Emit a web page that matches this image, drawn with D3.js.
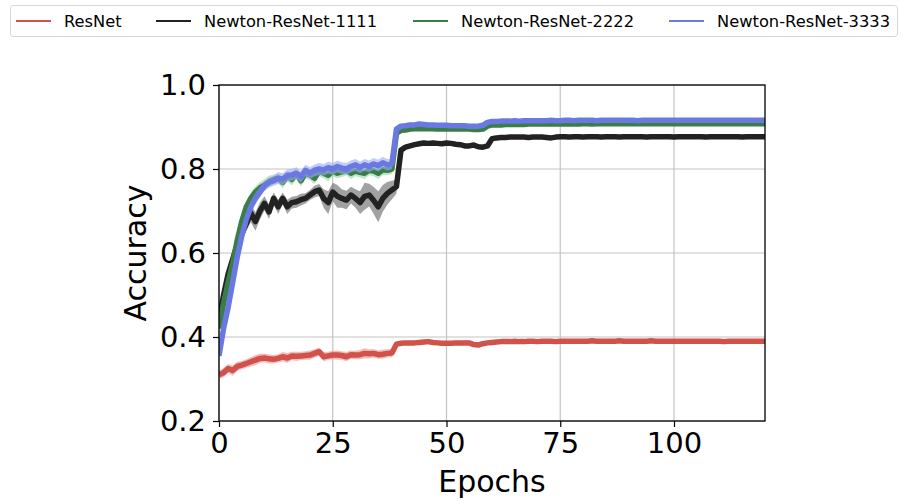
<!DOCTYPE html>
<html>
<head>
<meta charset="utf-8">
<script src="https://cdn.jsdelivr.net/npm/d3@7"></script>
<style>
  html, body { margin: 0; padding: 0; background: #fff; }
  svg { display: block; font-family: "DejaVu Sans", sans-serif; }
</style>
</head>
<body>
<svg id="chart" width="907" height="504"></svg>
<script>
// ---------------- DATA ----------------
const seriesNames = ["ResNet", "Newton-ResNet-1111", "Newton-ResNet-2222", "Newton-ResNet-3333"];
const xTicks = [0, 25, 50, 75, 100];
const yTicks = [0.2, 0.4, 0.6, 0.8, 1.0];
const xLabel = "Epochs";
const yLabel = "Accuracy";

const resnet = [
  0.310,0.315,0.325,0.320,0.330,0.333,0.337,0.341,0.345,0.349,
  0.350,0.348,0.347,0.349,0.353,0.350,0.355,0.354,0.355,0.356,
  0.357,0.361,0.365,0.353,0.355,0.357,0.357,0.356,0.353,0.358,
  0.357,0.358,0.361,0.360,0.361,0.358,0.359,0.361,0.362,0.383,
  0.385,0.386,0.386,0.386,0.387,0.388,0.389,0.387,0.386,0.385,
  0.385,0.385,0.386,0.386,0.386,0.386,0.382,0.381,0.384,0.386,
  0.387,0.388,0.389,0.389,0.389,0.390,0.389,0.389,0.390,0.390,
  0.389,0.390,0.390,0.390,0.389,0.390,0.390,0.390,0.390,0.390,
  0.390,0.390,0.391,0.390,0.390,0.390,0.390,0.390,0.391,0.390,
  0.390,0.390,0.390,0.390,0.390,0.391,0.390,0.390,0.390,0.390,
  0.390,0.390,0.390,0.390,0.390,0.390,0.390,0.390,0.390,0.390,
  0.390,0.389,0.390,0.390,0.390,0.390,0.390,0.390,0.390,0.390,
  0.390
];
const resnetStd = [
  0.010,0.011,0.011,0.012,0.011,0.010,0.010,0.011,0.012,0.011,
  0.010,0.011,0.010,0.010,0.011,0.012,0.010,0.011,0.010,0.010,
  0.011,0.010,0.010,0.011,0.010,0.010,0.011,0.010,0.011,0.010,
  0.010,0.011,0.012,0.011,0.010,0.010,0.011,0.010,0.010,0.006,
  0.005,0.005,0.005,0.005,0.005,0.005,0.005,0.005,0.005,0.005,
  0.005,0.005,0.005,0.005,0.005,0.005,0.005,0.005,0.005,0.004,
  0.004,0.004,0.004,0.004,0.004,0.004,0.004,0.004,0.004,0.004,
  0.004,0.004,0.004,0.004,0.004,0.004,0.004,0.004,0.004,0.004,
  0.004,0.004,0.004,0.004,0.004,0.004,0.004,0.004,0.004,0.004,
  0.004,0.004,0.004,0.004,0.004,0.004,0.004,0.004,0.004,0.004,
  0.004,0.004,0.004,0.004,0.004,0.004,0.004,0.004,0.004,0.004,
  0.004,0.004,0.004,0.004,0.004,0.004,0.004,0.004,0.004,0.004,
  0.004
];

const newton1111 = [
  0.440,0.500,0.550,0.585,0.620,0.645,0.670,0.695,0.675,0.700,
  0.718,0.698,0.730,0.710,0.730,0.710,0.720,0.722,0.727,0.730,
  0.738,0.746,0.750,0.730,0.720,0.745,0.735,0.730,0.726,0.738,
  0.730,0.720,0.735,0.738,0.725,0.710,0.730,0.742,0.750,0.758,
  0.845,0.852,0.855,0.858,0.860,0.862,0.861,0.862,0.861,0.860,
  0.862,0.861,0.859,0.858,0.855,0.855,0.857,0.853,0.852,0.855,
  0.872,0.874,0.875,0.875,0.876,0.876,0.876,0.876,0.875,0.876,
  0.876,0.876,0.875,0.874,0.876,0.877,0.877,0.876,0.877,0.877,
  0.876,0.877,0.877,0.877,0.876,0.877,0.877,0.877,0.876,0.877,
  0.877,0.877,0.877,0.877,0.876,0.877,0.877,0.877,0.877,0.877,
  0.876,0.877,0.877,0.877,0.877,0.877,0.877,0.876,0.877,0.877,
  0.877,0.877,0.877,0.877,0.877,0.876,0.877,0.877,0.877,0.877,
  0.877
];
const newton1111Std = [
  0.012,0.014,0.014,0.014,0.014,0.017,0.017,0.022,0.022,0.020,
  0.017,0.017,0.014,0.017,0.014,0.017,0.014,0.014,0.014,0.012,
  0.012,0.014,0.014,0.022,0.027,0.022,0.027,0.022,0.022,0.020,
  0.022,0.027,0.032,0.027,0.032,0.037,0.032,0.027,0.022,0.017,
  0.006,0.005,0.005,0.005,0.005,0.005,0.005,0.005,0.005,0.005,
  0.005,0.005,0.005,0.005,0.005,0.005,0.005,0.005,0.005,0.005,
  0.004,0.004,0.004,0.004,0.004,0.004,0.004,0.004,0.004,0.004,
  0.004,0.004,0.004,0.004,0.004,0.004,0.004,0.004,0.004,0.004,
  0.004,0.004,0.004,0.004,0.004,0.004,0.004,0.004,0.004,0.004,
  0.004,0.004,0.004,0.004,0.004,0.004,0.004,0.004,0.004,0.004,
  0.004,0.004,0.004,0.004,0.004,0.004,0.004,0.004,0.004,0.004,
  0.004,0.004,0.004,0.004,0.004,0.004,0.004,0.004,0.004,0.004,
  0.004
];

const newton2222 = [
  0.420,0.480,0.530,0.575,0.630,0.675,0.710,0.730,0.745,0.755,
  0.762,0.770,0.775,0.778,0.768,0.782,0.775,0.788,0.772,0.790,
  0.785,0.778,0.795,0.790,0.785,0.795,0.790,0.793,0.797,0.790,
  0.795,0.792,0.790,0.797,0.795,0.790,0.798,0.797,0.800,0.885,
  0.892,0.893,0.895,0.896,0.896,0.896,0.896,0.896,0.895,0.895,
  0.895,0.895,0.895,0.895,0.895,0.895,0.894,0.894,0.895,0.902,
  0.905,0.905,0.905,0.906,0.906,0.906,0.906,0.906,0.907,0.907,
  0.907,0.907,0.907,0.907,0.907,0.907,0.907,0.908,0.907,0.907,
  0.908,0.908,0.907,0.908,0.908,0.908,0.908,0.908,0.908,0.908,
  0.908,0.908,0.908,0.908,0.908,0.908,0.908,0.908,0.908,0.908,
  0.908,0.908,0.908,0.908,0.908,0.908,0.908,0.908,0.908,0.908,
  0.908,0.908,0.908,0.908,0.908,0.908,0.908,0.908,0.908,0.908,
  0.908
];
const newton2222Std = [
  0.010,0.010,0.010,0.010,0.012,0.012,0.014,0.014,0.014,0.014,
  0.014,0.014,0.012,0.012,0.014,0.012,0.014,0.012,0.014,0.012,
  0.012,0.014,0.012,0.012,0.014,0.012,0.012,0.012,0.012,0.014,
  0.012,0.012,0.014,0.012,0.012,0.014,0.012,0.012,0.012,0.007,
  0.005,0.005,0.004,0.004,0.004,0.004,0.004,0.004,0.004,0.004,
  0.004,0.004,0.004,0.004,0.004,0.004,0.004,0.004,0.004,0.004,
  0.004,0.004,0.004,0.004,0.004,0.004,0.004,0.004,0.004,0.004,
  0.004,0.004,0.004,0.004,0.004,0.004,0.004,0.004,0.004,0.004,
  0.004,0.004,0.004,0.004,0.004,0.004,0.004,0.004,0.004,0.004,
  0.004,0.004,0.004,0.004,0.004,0.004,0.004,0.004,0.004,0.004,
  0.004,0.004,0.004,0.004,0.004,0.004,0.004,0.004,0.004,0.004,
  0.004,0.004,0.004,0.004,0.004,0.004,0.004,0.004,0.004,0.004,
  0.004
];

const newton3333 = [
  0.355,0.420,0.470,0.530,0.590,0.640,0.680,0.710,0.730,0.745,
  0.760,0.768,0.772,0.778,0.776,0.785,0.786,0.790,0.782,0.797,
  0.790,0.797,0.800,0.798,0.803,0.800,0.806,0.802,0.800,0.806,
  0.810,0.804,0.810,0.806,0.812,0.808,0.815,0.810,0.812,0.895,
  0.902,0.903,0.905,0.905,0.907,0.906,0.905,0.905,0.904,0.904,
  0.904,0.903,0.903,0.903,0.903,0.902,0.902,0.902,0.904,0.911,
  0.913,0.913,0.914,0.914,0.914,0.915,0.914,0.915,0.915,0.915,
  0.915,0.915,0.915,0.916,0.915,0.915,0.916,0.916,0.915,0.916,
  0.916,0.916,0.916,0.915,0.916,0.916,0.916,0.916,0.916,0.916,
  0.916,0.916,0.915,0.916,0.916,0.916,0.916,0.916,0.916,0.916,
  0.916,0.916,0.916,0.916,0.916,0.916,0.916,0.916,0.916,0.916,
  0.916,0.916,0.916,0.916,0.916,0.916,0.916,0.916,0.916,0.916,
  0.916
];
const newton3333Std = [
  0.012,0.012,0.012,0.012,0.012,0.012,0.012,0.012,0.012,0.012,
  0.012,0.012,0.012,0.014,0.014,0.014,0.014,0.014,0.014,0.014,
  0.014,0.014,0.014,0.014,0.014,0.014,0.014,0.014,0.014,0.014,
  0.014,0.014,0.014,0.014,0.014,0.014,0.014,0.014,0.012,0.007,
  0.005,0.005,0.004,0.004,0.004,0.004,0.004,0.004,0.004,0.004,
  0.004,0.004,0.004,0.004,0.004,0.004,0.004,0.004,0.004,0.004,
  0.004,0.004,0.004,0.004,0.004,0.004,0.004,0.004,0.004,0.004,
  0.004,0.004,0.004,0.004,0.004,0.004,0.004,0.004,0.004,0.004,
  0.004,0.004,0.004,0.004,0.004,0.004,0.004,0.004,0.004,0.004,
  0.004,0.004,0.004,0.004,0.004,0.004,0.004,0.004,0.004,0.004,
  0.004,0.004,0.004,0.004,0.004,0.004,0.004,0.004,0.004,0.004,
  0.004,0.004,0.004,0.004,0.004,0.004,0.004,0.004,0.004,0.004,
  0.004
];

// ---------------- STYLE ----------------
const lineColors = ["#d0524a", "#222222", "#3a7d46", "#6a79e2"];
const bandColors = ["#f09a95", "#6e6e6e", "#8fd6a0", "#9daaf6"];
const bandOpacity = [0.65, 0.65, 0.6, 0.6];

const series = [
  { name: seriesNames[0], mean: resnet, std: resnetStd },
  { name: seriesNames[1], mean: newton1111, std: newton1111Std },
  { name: seriesNames[2], mean: newton2222, std: newton2222Std },
  { name: seriesNames[3], mean: newton3333, std: newton3333Std }
];

// ---------------- CHART ----------------
const svg = d3.select("#chart");
const plot = { left: 219, right: 765, top: 85, bottom: 421 };

const x = d3.scaleLinear().domain([0, 120]).range([plot.left, plot.right]);
const y = d3.scaleLinear().domain([0.2, 1.0]).range([plot.bottom, plot.top]);

// grid
const grid = svg.append("g");
grid.selectAll("line.gx").data(xTicks).enter().append("line")
  .attr("x1", d => x(d)).attr("x2", d => x(d))
  .attr("y1", plot.top).attr("y2", plot.bottom)
  .attr("stroke", "#c4c4c4").attr("stroke-width", 1.2);
grid.selectAll("line.gy").data(yTicks).enter().append("line")
  .attr("y1", d => y(d)).attr("y2", d => y(d))
  .attr("x1", plot.left).attr("x2", plot.right)
  .attr("stroke", "#c4c4c4").attr("stroke-width", 1.2);

// clip
svg.append("clipPath").attr("id", "clip").append("rect")
  .attr("x", plot.left).attr("y", plot.top)
  .attr("width", plot.right - plot.left).attr("height", plot.bottom - plot.top);

const marks = svg.append("g").attr("clip-path", "url(#clip)");

series.forEach((s, i) => {
  const pts = s.mean.map((m, e) => ({ e, m, sd: s.std[e] }));
  const area = d3.area()
    .x(d => x(d.e))
    .y0(d => y(d.m - d.sd))
    .y1(d => y(d.m + d.sd));
  const line = d3.line().x(d => x(d.e)).y(d => y(d.m));
  marks.append("path").datum(pts)
    .attr("d", area)
    .attr("fill", bandColors[i])
    .attr("fill-opacity", bandOpacity[i]);
  marks.append("path").datum(pts)
    .attr("d", line)
    .attr("fill", "none")
    .attr("stroke", lineColors[i])
    .attr("stroke-width", 5.5)
    .attr("stroke-linejoin", "round")
    .attr("stroke-linecap", "butt");
});

// axes
const xAxis = svg.append("g")
  .attr("transform", `translate(0,${plot.bottom})`)
  .call(d3.axisBottom(x).tickValues(xTicks).tickSize(6).tickPadding(5).tickFormat(d3.format("d")));
const yAxis = svg.append("g")
  .attr("transform", `translate(${plot.left},0)`)
  .call(d3.axisLeft(y).tickValues(yTicks).tickSize(6).tickPadding(7).tickFormat(d3.format(".1f")));

[xAxis, yAxis].forEach(a => {
  a.select(".domain").remove();
  a.selectAll(".tick line").attr("stroke", "#000").attr("stroke-width", 1.2);
  a.selectAll(".tick text")
    .attr("fill", "#000")
    .style("font-family", "'DejaVu Sans', sans-serif")
    .style("font-size", "29px");
});

// spines
svg.append("rect")
  .attr("x", plot.left).attr("y", plot.top)
  .attr("width", plot.right - plot.left).attr("height", plot.bottom - plot.top)
  .attr("fill", "none").attr("stroke", "#000").attr("stroke-width", 1.3);

// axis labels
svg.append("text")
  .attr("x", (plot.left + plot.right) / 2).attr("y", 492)
  .attr("text-anchor", "middle")
  .style("font-size", "30px")
  .text(xLabel);
svg.append("text")
  .attr("transform", `translate(146,${(plot.top + plot.bottom) / 2}) rotate(-90)`)
  .attr("text-anchor", "middle")
  .style("font-size", "30px")
  .text(yLabel);

// legend
const legend = svg.append("g");
legend.append("rect")
  .attr("x", 10.5).attr("y", 5.5).attr("width", 887).attr("height", 31)
  .attr("rx", 3).attr("ry", 3)
  .attr("fill", "#fff").attr("stroke", "#d6d6d6").attr("stroke-width", 1);
const legendX = [16, 156, 413, 669];
series.forEach((s, i) => {
  const g = legend.append("g").attr("transform", `translate(${legendX[i]},21)`);
  g.append("line").attr("x1", 0).attr("x2", 35).attr("y1", 0).attr("y2", 0)
    .attr("stroke", lineColors[i]).attr("stroke-width", 2);
  g.append("text").attr("x", 48).attr("y", 0).attr("dy", "0.36em")
    .style("font-size", "16.3px").attr("fill", "#000")
    .text(s.name);
});
</script>
</body>
</html>
